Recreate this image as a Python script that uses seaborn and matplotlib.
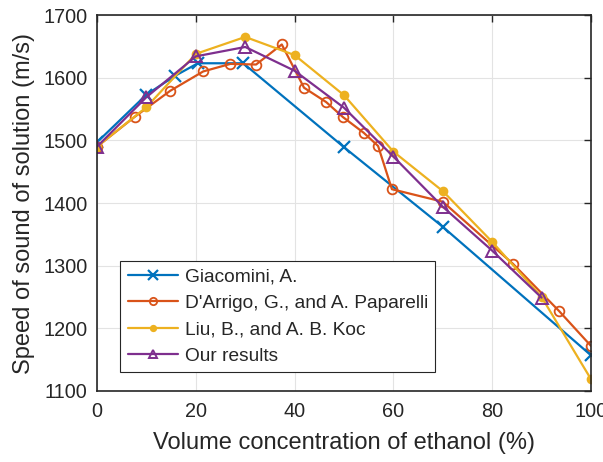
import matplotlib
matplotlib.use("Agg")
import matplotlib.pyplot as plt
import seaborn as sns
import pandas as pd

sns.set_style("white")
plt.rcParams["font.family"] = ["Liberation Sans", "DejaVu Sans"]

# Speed of sound in ethanol-water mixtures, by source
giacomini_x = [0, 10, 15.8, 20.4, 29.6, 50, 70, 100]
giacomini_y = [1497, 1573, 1603, 1623, 1623, 1489, 1362, 1157]

darrigo_x = [0, 7.7, 14.8, 21.5, 27, 32.2, 37.4, 41.9, 46.4, 49.8, 54, 56.9, 59.7, 70, 84.2, 93.5, 100]
darrigo_y = [1490, 1538, 1579, 1610, 1622, 1621, 1653, 1584, 1561, 1537, 1512, 1491, 1422, 1402, 1303, 1228, 1172]

liu_x = [0, 10, 20, 30, 40, 50, 60, 70, 80, 90, 100]
liu_y = [1490, 1553, 1638, 1665, 1636, 1572, 1482, 1419, 1338, 1250, 1119]

ours_x = [0, 10, 20, 30, 40, 50, 60, 70, 80, 90]
ours_y = [1490, 1569, 1634, 1649, 1611, 1552, 1474, 1394, 1324, 1249]

series = [
    ("Giacomini, A.", giacomini_x, giacomini_y, "#0072BD", "x", dict(markersize=9, markeredgewidth=1.6)),
    ("D'Arrigo, G., and A. Paparelli", darrigo_x, darrigo_y, "#D95319", "o",
     dict(markersize=7, markerfacecolor="none", markeredgewidth=1.3)),
    ("Liu, B., and A. B. Koc", liu_x, liu_y, "#EDB120", "o", dict(markersize=7, markeredgewidth=0)),
    ("Our results", ours_x, ours_y, "#7E2F8E", "^",
     dict(markersize=8, markerfacecolor="none", markeredgewidth=1.4)),
]

fig = plt.figure(figsize=(6.03, 4.62), dpi=100)
ax = fig.add_axes([0.161, 0.1537, 0.819, 0.8138])

for name, xs, ys, color, marker, kw in series:
    df = pd.DataFrame({"x": xs, "y": ys})
    sns.lineplot(data=df, x="x", y="y", ax=ax, color=color, marker=marker,
                 linewidth=1.6, sort=False, label=name, markeredgecolor=color, **kw)

ax.set_xlim(0, 100)
ax.set_ylim(1100, 1700)
ax.set_xticks([0, 20, 40, 60, 80, 100])
ax.set_yticks([1100, 1200, 1300, 1400, 1500, 1600, 1700])
ax.grid(True, color="#e3e3e3", linewidth=0.8)
ax.set_axisbelow(True)
for s in ax.spines.values():
    s.set_visible(True)
    s.set_color("#262626")
    s.set_linewidth(1.2)
ax.tick_params(direction="in", length=5, width=1, colors="#262626",
               top=True, right=True, labelsize=14.3)
ax.tick_params(axis="x", pad=8)
ax.tick_params(axis="y", pad=7)
for lab in ax.get_xticklabels() + ax.get_yticklabels():
    lab.set_color("#262626")
ax.set_xlabel("Volume concentration of ethanol (%)", fontsize=17, color="#262626", labelpad=8)
ax.set_ylabel("Speed of sound of solution (m/s)", fontsize=17, color="#262626", labelpad=6)

# Legend with smaller markers in the handles
leg = ax.legend(loc="lower left", bbox_to_anchor=(0.047, 0.05), fontsize=13.8,
                frameon=True, fancybox=False, edgecolor="#262626", framealpha=1,
                borderpad=0.4, labelspacing=0.46, handlelength=2.6, handletextpad=0.35,
                borderaxespad=0, markerscale=0.75)
leg.get_frame().set_linewidth(0.8)

fig.savefig("out.png", dpi=100)
